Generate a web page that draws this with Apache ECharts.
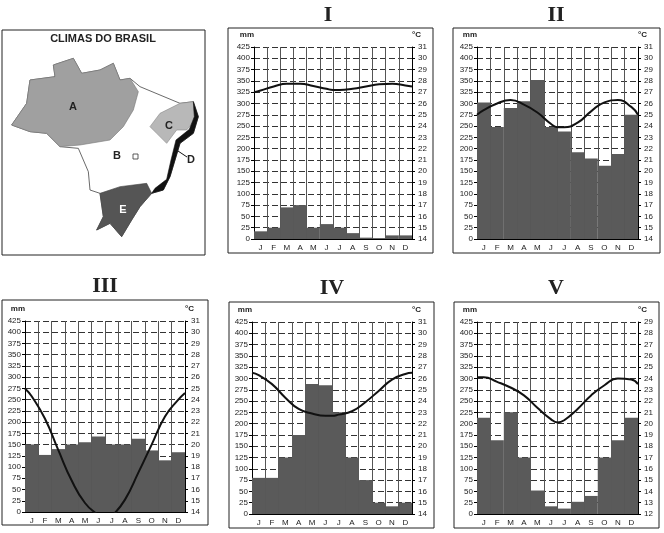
<!DOCTYPE html>
<html><head><meta charset="utf-8">
<script src="https://cdn.jsdelivr.net/npm/echarts@6/dist/echarts.min.js"></script>
<style>html,body{margin:0;padding:0;background:#fff}#c{width:664px;height:533px}</style>
</head><body><div id="c"></div>
<script>
const months = ['J','F','M','A','M','J','J','A','S','O','N','D'];
const mmTicks = [0,425,25];
const titles = ['I','II','III','IV','V'];
// precipitation (mm)
const precipI   = [17,25,70,75,25,33,25,13,3,2,8,8];
const precipII  = [302,248,290,305,352,248,238,192,178,162,188,275];
const precipIII = [150,127,140,150,155,168,150,150,163,137,115,133];
const precipIV  = [80,80,125,175,288,285,225,125,75,25,17,25];
const precipV   = [213,163,225,125,52,17,12,27,40,125,163,213];
// temperature positions (month index) and values (°C)
const tX   = [0,0.5,1.5,2.5,3.5,4.5,5.5,6,6.5,7.5,8.5,9.5,10.5,11.5,12];
const tempI   = [27.0,27.15,27.5,27.75,27.75,27.55,27.3,27.2,27.2,27.3,27.5,27.7,27.75,27.6,27.5];
const tempII  = [25.0,25.4,26.0,26.3,25.9,25.2,24.2,23.9,23.9,24.3,25.3,26.1,26.3,25.7,25.0];
const tempIII = [25.0,24.3,22.3,19.5,16.8,14.8,13.7,13.2,13.6,15.1,17.5,20.0,22.5,24.0,24.6];
const tempIV  = [26.5,26.3,25.5,24.3,23.3,22.9,22.7,22.7,22.8,23.1,23.9,24.9,25.9,26.4,26.5];
const tempV   = [24.1,24.1,23.7,23.2,22.5,21.4,20.4,20.1,20.3,21.3,22.5,23.4,24.0,23.9,23.5];
const tRanges = [[14,31],[14,31],[14,31],[14,31],[12,29]];
const precip = [precipI,precipII,precipIII,precipIV,precipV];
const temps = [tempI,tempII,tempIII,tempIV,tempV];

// layout: plot areas and panel boxes
const plots = [[254,47,158,192],[477,47,161,192],[25,321,160,191],[252,322,160,192],[477,322,161,192]];
const boxes = [[228,28,205,225],[453,28,207,225],[2,300,206,225],[229,302,205,226],[454,302,205,226]];
const titlePos = [[328,15],[556,15],[105,286],[332,288],[556,288]];

const grid=[],xAxis=[],yAxis=[],series=[],graphic=[];
const lab = {fontSize:8,color:'#222',fontFamily:'Liberation Sans'};
plots.forEach((p,i)=>{
  grid.push({left:p[0],top:p[1],width:p[2],height:p[3]});
  xAxis.push({type:'category',gridIndex:i,data:months,boundaryGap:true,
    axisLine:{lineStyle:{color:'#000',width:1}},axisTick:{show:false},
    axisLabel:Object.assign({margin:5,interval:0},lab),
    splitLine:{show:true,interval:0,lineStyle:{color:'#555',width:1}}});
  xAxis.push({type:'value',gridIndex:i,min:0,max:12,show:false});
  yAxis.push({type:'value',gridIndex:i,min:mmTicks[0],max:mmTicks[1],interval:mmTicks[2],
    name:'mm',nameGap:8,nameTextStyle:{fontSize:8,fontWeight:'bold',color:'#222',align:'right',padding:[0,0,0,0]},
    axisLine:{show:true,lineStyle:{color:'#000'}},axisTick:{show:true,length:3,lineStyle:{color:'#000'}},
    axisLabel:Object.assign({margin:4},lab),
    splitLine:{show:true,lineStyle:{color:'#333',type:[6,3],width:1}}});
  yAxis.push({type:'value',gridIndex:i,position:'right',min:tRanges[i][0],max:tRanges[i][1],interval:1,
    name:'°C',nameGap:8,nameTextStyle:{fontSize:8,fontWeight:'bold',color:'#222',align:'left'},
    axisLine:{show:true,lineStyle:{color:'#000'}},axisTick:{show:true,length:3,lineStyle:{color:'#000'}},
    axisLabel:Object.assign({margin:6},lab),splitLine:{show:false}});
  series.push({type:'bar',xAxisIndex:i*2,yAxisIndex:i*2,data:precip[i],barCategoryGap:'0%',
    itemStyle:{color:'#5a5a5a'},silent:true,z:3});
  series.push({type:'line',xAxisIndex:i*2+1,yAxisIndex:i*2+1,data:tX.map((x,k)=>[x,temps[i][k]]),
    smooth:true,showSymbol:false,clip:true,lineStyle:{color:'#111',width:2},z:5});
  const b=boxes[i];
  graphic.push({type:'rect',shape:{x:b[0],y:b[1],width:b[2],height:b[3]},style:{fill:null,stroke:'#222',lineWidth:1},z:-1});
  graphic.push({type:'text',x:titlePos[i][0],y:titlePos[i][1],style:{text:titles[i],font:'bold 22px "Liberation Serif"',fill:'#222',align:'center',verticalAlign:'middle'}});
});

// map panel (decorative)
const S = pts => pts.map(p=>[p[0]/3,p[1]/3+20]);
const outline=[[35,315],[80,250],[90,180],[165,170],[160,135],[220,115],[245,160],[300,150],[340,130],[360,180],[390,175],[420,200],[480,225],[540,250],[580,245],[595,290],[580,340],[540,370],[525,420],[510,470],[490,510],[455,520],[420,560],[395,600],[365,650],[330,610],[290,630],[310,590],[300,520],[270,510],[265,455],[235,385],[180,380],[140,340],[90,335]];
const regA=[[35,315],[80,250],[90,180],[165,170],[160,135],[220,115],[245,160],[300,150],[340,130],[360,180],[390,175],[415,215],[400,270],[370,320],[330,360],[240,375],[180,380],[140,340],[90,335]];
const regC=[[450,320],[480,280],[540,250],[580,245],[585,300],[560,330],[530,330],[500,370],[470,340]];
const regD=[[580,245],[595,290],[580,340],[540,370],[525,420],[510,470],[490,510],[455,520],[465,505],[500,478],[513,420],[528,360],[568,328],[583,290]];
const regE=[[300,520],[360,500],[440,490],[455,520],[420,560],[395,600],[365,650],[330,610],[290,630],[310,590]];
graphic.push({type:'rect',shape:{x:2,y:30,width:203,height:225},style:{fill:null,stroke:'#222',lineWidth:1}});
graphic.push({type:'polygon',shape:{points:S(outline)},style:{fill:'#fff',stroke:'#444',lineWidth:0.8}});
graphic.push({type:'polygon',shape:{points:S(regA)},style:{fill:'#a0a0a0',stroke:'#777',lineWidth:0.6}});
graphic.push({type:'polygon',shape:{points:S(regC)},style:{fill:'#b8b8b8',stroke:'#888',lineWidth:0.6}});
graphic.push({type:'polygon',shape:{points:S(regE)},style:{fill:'#555',stroke:'#444',lineWidth:0.6}});
graphic.push({type:'polygon',shape:{points:S(regD)},style:{fill:'#111',stroke:'#111',lineWidth:0.6}});
graphic.push({type:'rect',shape:{x:133,y:154,width:5,height:5},style:{fill:'#fff',stroke:'#333',lineWidth:0.8}});
graphic.push({type:'line',shape:{x1:178,y1:151,x2:187,y2:157},style:{stroke:'#111',lineWidth:1}});
[['CLIMAS DO BRASIL',103,39,'#222','bold 11px "Liberation Sans"'],['A',73,107,'#222','bold 11px "Liberation Sans"'],
 ['B',117,156,'#222','bold 11px "Liberation Sans"'],['C',169,126,'#222','bold 11px "Liberation Sans"'],
 ['D',191,160,'#222','bold 11px "Liberation Sans"'],['E',123,210,'#fff','bold 11px "Liberation Sans"']].forEach(t=>{
  graphic.push({type:'text',x:t[1],y:t[2],style:{text:t[0],fill:t[3],font:t[4],align:'center',verticalAlign:'middle'}});
});

const chart=echarts.init(document.getElementById('c'));
chart.setOption({animation:false,grid,xAxis,yAxis,series,graphic});
</script></body></html>
